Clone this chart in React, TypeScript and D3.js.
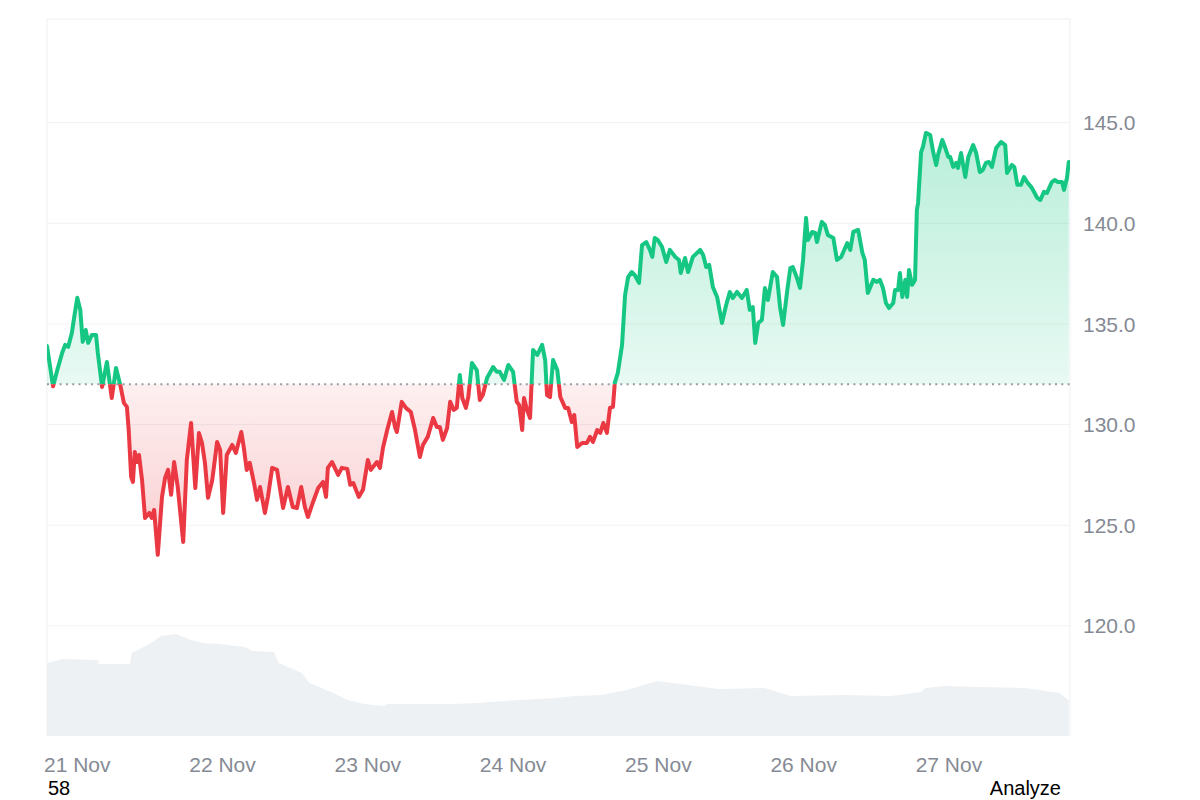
import React, { useRef, useEffect } from "react";
import * as d3 from "d3";

// 7 day window, starts 20 Nov 19:00
const START = new Date(2024, 10, 20, 19, 0);
const SPAN_HOURS = 169;
const OPEN_PRICE = 132.0;

const priceHours = [
  0, 1.0, 1.7, 2.5, 3.0, 3.5, 4.1, 4.5, 5.0, 5.5, 5.9, 6.4, 6.8, 7.4, 8.1, 8.4, 9.1, 9.9, 10.7, 11.4,
  12.1, 12.7, 13.2, 13.5, 13.9, 14.2, 14.5, 14.9, 15.2, 15.7, 16.2, 16.9, 17.3, 17.7, 18.3, 19.0, 19.5, 20.0, 20.5, 21.0,
  21.6, 22.5, 23.1, 23.8, 24.5, 25.1, 25.6, 26.1, 26.6, 27.3, 28.1, 28.6, 29.1, 29.7, 30.6, 31.2, 32.1, 32.5, 33.0, 33.5,
  34.2, 34.7, 35.2, 36.0, 36.5, 37.2, 38.0, 39.0, 39.8, 40.6, 41.3, 42.0, 42.6, 43.1, 43.9, 44.8, 45.6, 46.1, 46.4, 47.1,
  48.1, 48.7, 49.6, 50.1, 50.6, 51.5, 52.2, 53.0, 53.5, 54.5, 55.0, 55.5, 56.2, 57.0, 57.5, 57.8, 58.6, 59.3, 60.1, 60.8,
  61.6, 62.1, 62.9, 63.8, 64.4, 64.9, 65.4, 66.1, 66.6, 67.2, 67.7, 68.2, 68.6, 69.2, 69.6, 70.2, 71.0, 71.5, 72.0, 72.7,
  73.7, 74.3, 74.8, 75.5, 76.2, 77.0, 77.6, 78.0, 78.5, 78.8, 79.3, 79.8, 80.3, 81.0, 81.8, 82.3, 82.6, 83.1, 83.6, 84.3,
  84.8, 85.6, 86.1, 86.7, 87.1, 87.6, 88.4, 89.2, 89.7, 90.2, 90.9, 91.4, 91.9, 92.5, 93.0, 93.5, 93.8, 94.3, 95.0, 95.5,
  96.0, 96.6, 97.1, 97.8, 98.3, 99.0, 99.6, 100.0, 100.4, 100.9, 101.6, 102.3, 102.9, 103.8, 104.4, 104.7, 105.4, 105.9, 106.7, 107.9,
  108.4, 108.9, 109.4, 110.0, 110.7, 111.5, 112.2, 112.8, 113.3, 114.0, 114.8, 115.6, 116.1, 116.6, 117.0, 117.5, 118.1, 118.6, 119.1, 119.9,
  120.6, 121.1, 121.6, 122.3, 122.8, 123.2, 123.9, 124.4, 124.9, 125.4, 125.7, 126.4, 126.9, 127.2, 128.0, 128.5, 129.0, 129.9, 130.5, 131.2,
  132.2, 132.7, 133.2, 134.0, 134.7, 135.1, 135.6, 136.5, 137.1, 137.6, 138.1, 138.6, 139.1, 139.8, 140.1, 140.6, 140.9, 141.3, 141.8, 142.1,
  142.4, 142.9, 143.4, 143.7, 143.9, 144.4, 144.7, 145.2, 145.9, 146.4, 146.9, 147.2, 147.9, 148.4, 148.9, 149.2, 149.7, 150.2, 150.5, 151.0,
  151.7, 152.2, 153.0, 153.5, 154.1, 154.6, 155.1, 155.6, 156.1, 156.8, 157.6, 158.3, 158.6, 159.4, 159.8, 160.3, 160.9, 161.4, 161.9, 162.7,
  163.6, 164.1, 164.7, 165.2, 166.0, 166.5, 167.0, 167.7, 168.0, 168.5, 168.8,
];

const prices = [
  133.9, 131.9, 132.71, 133.56, 133.96, 133.86, 134.55, 135.35, 136.3, 135.7, 134.11, 134.7, 134.06, 134.45, 134.45, 133.56, 131.87, 133.11, 131.32, 132.81,
  131.97, 131.08, 130.88, 129.73, 127.4, 127.15, 128.64, 128.14, 128.49, 127.25, 125.36, 125.61, 125.36, 125.76, 123.53, 126.41, 127.35, 127.75, 126.51, 128.14,
  126.9, 124.17, 128.24, 130.08, 126.85, 129.58, 129.09, 128.09, 126.36, 127.25, 129.14, 128.74, 125.61, 128.49, 128.99, 128.59, 129.63, 128.89, 127.75, 128.1,
  127.1, 126.26, 126.9, 125.61, 126.41, 127.85, 127.75, 125.86, 126.9, 125.91, 125.86, 126.9, 125.91, 125.41, 126.11, 126.85, 127.15, 126.41, 127.85, 128.14,
  127.5, 127.85, 127.8, 127.01, 127.1, 126.41, 126.76, 128.24, 127.75, 128.14, 127.85, 128.84, 129.73, 130.63, 129.88, 129.63, 131.13, 130.83, 130.63, 129.73,
  128.39, 128.99, 129.39, 130.33, 129.88, 129.88, 129.24, 129.83, 131.13, 130.73, 130.83, 132.47, 131.32, 130.83, 131.37, 133.06, 132.71, 131.22, 131.47, 132.32,
  132.86, 132.62, 132.62, 132.22, 132.96, 132.62, 131.13, 130.98, 129.73, 131.32, 130.73, 130.33, 133.71, 133.46, 133.96, 133.21, 131.47, 131.37, 133.21, 132.71,
  131.37, 130.83, 130.83, 130.13, 130.48, 128.89, 129.09, 129.09, 129.39, 129.14, 129.73, 129.59, 130.08, 129.59, 130.83, 130.88, 132.07, 132.57, 133.96, 136.44,
  137.33, 137.58, 137.43, 137.04, 138.92, 139.07, 138.68, 138.33, 139.27, 139.17, 138.83, 138.08, 138.68, 138.33, 138.18, 137.53, 138.28, 137.58, 138.33, 138.68,
  138.43, 137.83, 137.93, 136.84, 136.34, 135.05, 135.94, 136.59, 136.29, 136.59, 136.29, 136.69, 135.7, 135.84, 134.06, 135.05, 135.2, 136.79, 136.19, 137.58,
  137.33, 135.84, 134.95, 136.69, 137.78, 137.83, 137.28, 136.79, 138.18, 140.27, 139.17, 139.57, 139.52, 139.07, 140.07, 139.92, 139.42, 139.27, 138.18, 138.33,
  139.02, 138.68, 139.57, 139.67, 138.53, 138.18, 136.54, 137.19, 137.09, 137.19, 136.79, 136.04, 135.79, 136.04, 136.69, 136.69, 137.53, 136.34, 137.19, 136.34,
  137.68, 136.94, 137.19, 140.66, 141.01, 143.54, 143.79, 144.49, 144.39, 143.54, 142.9, 143.4, 144.14, 143.74, 143.3, 143.3, 142.8, 143.0, 142.75, 143.49,
  142.3, 143.3, 143.89, 143.49, 142.55, 142.65, 143.0, 143.05, 142.8, 143.74, 144.04, 143.89, 142.5, 142.9, 142.8, 141.91, 141.91, 142.3, 142.05, 141.76,
  141.26, 141.16, 141.56, 141.51, 142.05, 142.15, 142.05, 142.05, 141.66, 142.25, 143.05,
];

const volumeHours = [
  0, 2.6, 8.4, 8.6, 13.7, 14.0, 15.0, 17.2, 18.8, 21.3, 23.8, 25.8, 28.6, 32.7, 34.0, 37.5, 38.3, 42.1, 43.4, 47.3,
  49.7, 52.4, 55.5, 56.3, 61.8, 66.9, 71.2, 73.2, 78.1, 83.9, 87.1, 91.4, 95.8, 100.8, 105.9, 111.0, 118.6, 122.9, 131.8, 139.4,
  144.4, 145.1, 148.2, 154.0, 161.6, 167.2, 168.8,
];

// volume, millions
const volumes = [
  730, 770, 760, 720, 720, 830, 860, 930, 1000, 1020, 960, 930, 920, 890, 850, 840, 730, 630, 530, 430,
  360, 320, 300, 320, 320, 320, 330, 340, 360, 380, 400, 410, 460, 550, 510, 470, 480, 400, 410, 400,
  440, 480, 500, 490, 480, 430, 360,
];

const priceTicks = [120, 125, 130, 135, 140, 145];
const dayTicks = [21, 22, 23, 24, 25, 26, 27];

const GREEN = "#16c784";
const RED = "#ea3943";
const FONT = "'Liberation Sans', Arial, Helvetica, sans-serif";

const atHour = (h: number) => new Date(START.getTime() + h * 3600 * 1000);

export default function App() {
  const chartRef = useRef<SVGSVGElement>(null);

  useEffect(() => {
    if (chartRef.current === null) return;
    const svg = d3.select(chartRef.current);
    svg.selectAll("*").remove();

    const left = 47;
    const right = 1070;
    const top = 19;
    const bottom = 736;

    const priceData = priceHours.map((h, i) => ({ date: atHour(h), value: prices[i] }));
    const volumeData = volumeHours.map((h, i) => ({ date: atHour(h), value: volumes[i] }));

    const xScale = d3
      .scaleTime()
      .domain([START, atHour(SPAN_HOURS)])
      .range([left, right]);

    const yScale = d3.scaleLinear().domain([114.53, 150.15]).range([bottom, top]);
    const volScale = d3.scaleLinear().domain([0, 1200]).range([bottom, bottom - 120]);

    const yBase = yScale(OPEN_PRICE);

    const defs = svg.append("defs");
    defs.append("clipPath").attr("id", "clip-up")
      .append("rect").attr("x", left).attr("y", top).attr("width", right - left).attr("height", yBase - top);
    defs.append("clipPath").attr("id", "clip-down")
      .append("rect").attr("x", left).attr("y", yBase).attr("width", right - left).attr("height", bottom - yBase);

    const gUp = defs.append("linearGradient").attr("id", "grad-up")
      .attr("gradientUnits", "userSpaceOnUse")
      .attr("x1", 0).attr("x2", 0).attr("y1", yScale(144.5)).attr("y2", yBase);
    gUp.append("stop").attr("offset", 0).attr("stop-color", GREEN).attr("stop-opacity", 0.3);
    gUp.append("stop").attr("offset", 1).attr("stop-color", GREEN).attr("stop-opacity", 0.1);

    const gDown = defs.append("linearGradient").attr("id", "grad-down")
      .attr("gradientUnits", "userSpaceOnUse")
      .attr("x1", 0).attr("x2", 0).attr("y1", yBase).attr("y2", yScale(123.5));
    gDown.append("stop").attr("offset", 0).attr("stop-color", RED).attr("stop-opacity", 0.08);
    gDown.append("stop").attr("offset", 1).attr("stop-color", RED).attr("stop-opacity", 0.25);

    // volume in the background
    const volArea = d3
      .area<{ date: Date; value: number }>()
      .x((d) => xScale(d.date))
      .y0(bottom)
      .y1((d) => volScale(d.value));
    svg.append("path").datum(volumeData).attr("d", volArea).attr("fill", "#eef1f4");

    // grid
    svg.append("g")
      .selectAll("line")
      .data(priceTicks)
      .enter()
      .append("line")
      .attr("x1", left)
      .attr("x2", right)
      .attr("y1", (d) => yScale(d))
      .attr("y2", (d) => yScale(d))
      .attr("stroke", "#eff2f5")
      .attr("stroke-width", 1);

    svg.append("path")
      .attr("d", `M${left},${bottom}V${top}H${right}V${bottom}`)
      .attr("fill", "none")
      .attr("stroke", "#eceff2")
      .attr("stroke-width", 1);

    const area = d3
      .area<{ date: Date; value: number }>()
      .x((d) => xScale(d.date))
      .y0(yBase)
      .y1((d) => yScale(d.value));

    const line = d3
      .line<{ date: Date; value: number }>()
      .x((d) => xScale(d.date))
      .y((d) => yScale(d.value));

    svg.append("path").datum(priceData).attr("d", area)
      .attr("fill", "url(#grad-up)").attr("clip-path", "url(#clip-up)");
    svg.append("path").datum(priceData).attr("d", area)
      .attr("fill", "url(#grad-down)").attr("clip-path", "url(#clip-down)");

    svg.append("line")
      .attr("x1", left)
      .attr("x2", right)
      .attr("y1", yBase)
      .attr("y2", yBase)
      .attr("stroke", "#969ba3")
      .attr("stroke-width", 2)
      .attr("stroke-dasharray", "2 4.3");

    svg.append("path").datum(priceData).attr("d", line)
      .attr("fill", "none").attr("stroke", GREEN).attr("stroke-width", 4)
      .attr("stroke-linejoin", "round").attr("stroke-linecap", "round")
      .attr("clip-path", "url(#clip-up)");
    svg.append("path").datum(priceData).attr("d", line)
      .attr("fill", "none").attr("stroke", RED).attr("stroke-width", 4)
      .attr("stroke-linejoin", "round").attr("stroke-linecap", "round")
      .attr("clip-path", "url(#clip-down)");

    // price labels on the right
    svg.append("g")
      .selectAll("text")
      .data(priceTicks)
      .enter()
      .append("text")
      .attr("x", 1083)
      .attr("y", (d) => yScale(d))
      .attr("dy", "0.36em")
      .attr("font-family", FONT)
      .attr("font-size", 21)
      .attr("fill", "#858a94")
      .text((d) => d3.format(".1f")(d));

    // day labels
    svg.append("g")
      .selectAll("text")
      .data(dayTicks)
      .enter()
      .append("text")
      .attr("x", (d) => xScale(new Date(2024, 10, d)))
      .attr("y", 772)
      .attr("text-anchor", "middle")
      .attr("font-family", FONT)
      .attr("font-size", 21)
      .attr("fill", "#858a94")
      .text((d) => `${d} Nov`);

    svg.append("text")
      .attr("x", 48)
      .attr("y", 795)
      .attr("font-family", FONT)
      .attr("font-size", 20)
      .attr("fill", "#000")
      .text("58");

    svg.append("text")
      .attr("x", 1061)
      .attr("y", 795)
      .attr("text-anchor", "end")
      .attr("font-family", FONT)
      .attr("font-size", 20)
      .attr("fill", "#000")
      .text("Analyze");
  }, []);

  return (
    <div style={{ position: "absolute", left: 0, top: 0, width: 1200, height: 800, background: "#fff" }}>
      <svg ref={chartRef} width={1200} height={800}></svg>
    </div>
  );
}
